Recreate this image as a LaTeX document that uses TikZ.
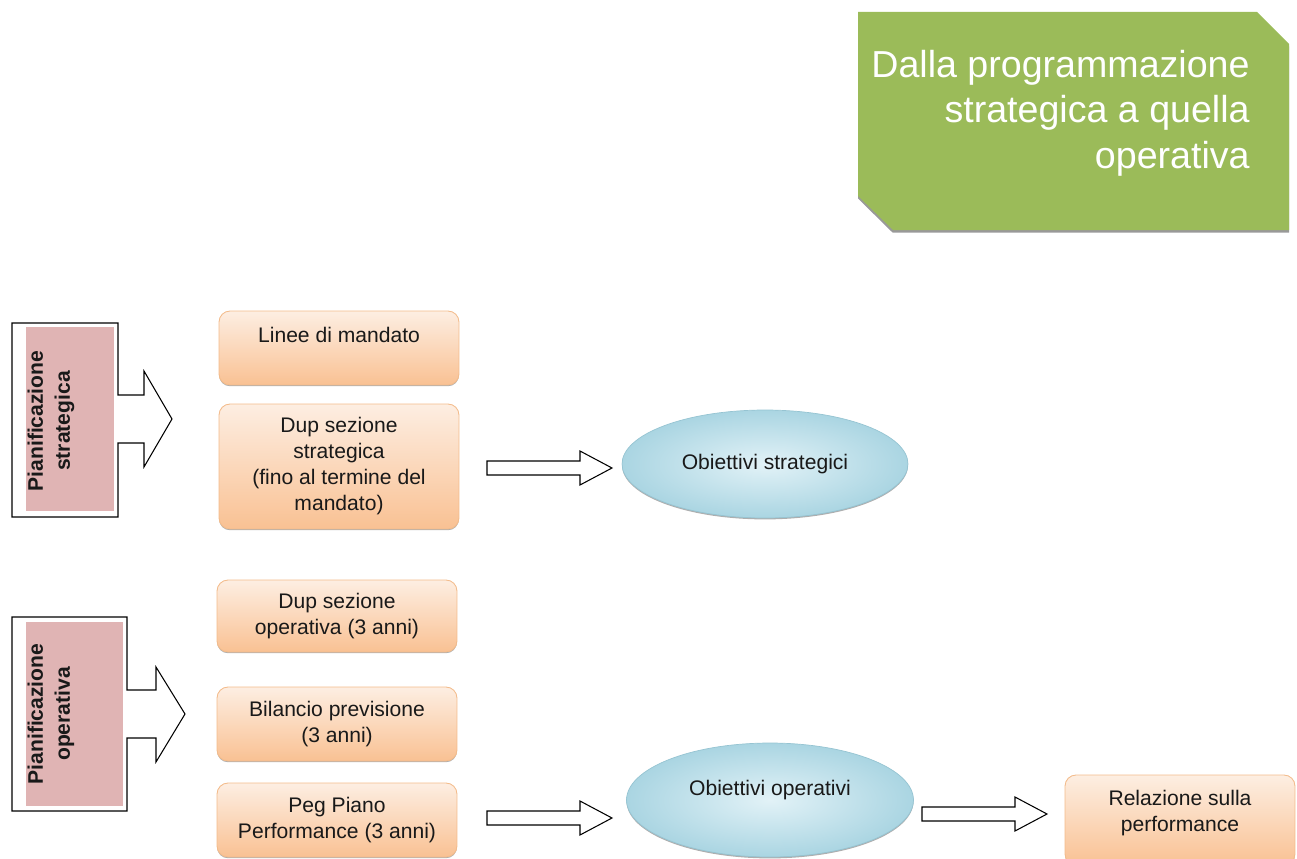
\documentclass[tikz,border=0pt]{standalone}
\usepackage{fontspec}
\setmainfont{Liberation Sans}
\usetikzlibrary{shapes.geometric,shadows,calc}

\definecolor{titlegreen}{RGB}{155,187,89}
\definecolor{planpink}{RGB}{224,180,180}
\definecolor{peachtop}{RGB}{253,238,226}
\definecolor{peachbot}{RGB}{249,193,147}
\definecolor{peachline}{RGB}{243,188,140}
\definecolor{skyin}{RGB}{226,242,247}
\definecolor{skyout}{RGB}{170,213,226}
\definecolor{skyline}{RGB}{150,196,210}
\definecolor{ink}{RGB}{25,25,25}

\tikzset{
    docbox/.style={draw=peachline, line width=0.5pt, rounded corners=0.22cm,
        top color=peachtop, bottom color=peachbot, minimum width=4.8cm,
        align=center, text=ink, font=\fontsize{12}{14.8}\selectfont,
        drop shadow={shadow xshift=0pt, shadow yshift=-0.7pt, fill=black!70, opacity=0.45}},
    goal/.style={ellipse, draw=skyline, line width=0.4pt, inner sep=0pt,
        inner color=skyin, outer color=skyout, text=ink,
        font=\fontsize{12}{14.8}\selectfont,
        drop shadow={shadow xshift=0pt, shadow yshift=-0.8pt, fill=black!70, opacity=0.45}},
    planbox/.style={fill=planpink, inner sep=0pt},
    plantext/.style={rotate=90, align=center, text=ink,
        font=\bfseries\fontsize{12}{15.4}\selectfont},
    callout/.style={draw=black, fill=white, line width=0.6pt, line join=miter},
    blockarrow/.style={draw=black, fill=white, line width=0.6pt, line join=miter}
}

% hollow block arrow, tail and tip on the same line
\newcommand{\blockarrow}[2]{%
    \draw[blockarrow] ($(#1)+(0,-7)$) -- ($(#2)+(-32,-7)$) -- ($(#2)+(-32,-17)$) --
    (#2) -- ($(#2)+(-32,17)$) -- ($(#2)+(-32,7)$) -- ($(#1)+(0,7)$) -- cycle;}

\begin{document}
\begin{tikzpicture}[x=0.02cm, y=-0.02cm]
    \useasboundingbox (0,0) rectangle (1297,858);

    % title
    \fill[black!40] (858,14.5) -- (1257,14.5) -- (1289,46.5) -- (1289,232.5) -- (892.5,232.5) -- (858,198.5) -- cycle;
    \fill[titlegreen] (858,12) -- (1257,12) -- (1289,44) -- (1289,230) -- (893,230) -- (858,196) -- cycle;
    \node[anchor=north east, align=right, inner sep=0pt, text=white,
        font=\fontsize{21.4}{25.8}\selectfont] (titolo) at (1250,50)
        {Dalla programmazione\\strategica a quella\\operativa};

    % strategic planning
    \draw[callout] (12,323) -- (118,323) -- (118,395) -- (144,395) -- (144,371) -- (172,419) --
    (144,467) -- (144,443) -- (118,443) -- (118,517) -- (12,517) -- cycle;
    \node[planbox, minimum width=1.76cm, minimum height=3.68cm] (pstr) at (70,419) {};
    \node[plantext] (pstrtext) at (51,421) {Pianificazione\\strategica};

    \node[docbox, minimum height=1.48cm, text depth=15pt] (linee) at (339,348) {Linee di mandato};
    \node[docbox, minimum height=2.5cm] (dupstr) at (339,466.5)
        {Dup sezione\\strategica\\(fino al termine del\\mandato)};
    \node[goal, minimum width=5.72cm, minimum height=2.16cm] (obstr) at (765,464) {Obiettivi strategici};

    % operational planning
    \draw[callout] (12,617) -- (127,617) -- (127,690) -- (156,690) -- (156,667) -- (185,714) --
    (156,762) -- (156,738) -- (127,738) -- (127,811) -- (12,811) -- cycle;
    \node[planbox, minimum width=1.94cm, minimum height=3.68cm] (pop) at (74.5,714) {};
    \node[plantext] (poptext) at (51,714) {Pianificazione\\operativa};

    \node[docbox, minimum height=1.44cm] (dupop) at (337,616) {Dup sezione\\operativa (3 anni)};
    \node[docbox, minimum height=1.48cm] (bilancio) at (337,724) {Bilancio previsione\\(3 anni)};
    \node[docbox, minimum height=1.48cm] (peg) at (337,820) {Peg Piano\\Performance (3 anni)};
    \node[goal, minimum width=5.74cm, minimum height=2.28cm, text depth=14pt] (obop) at (770,800)
        {Obiettivi operativi};
    \node[docbox, minimum width=4.6cm, minimum height=1.8cm, text depth=10pt] (relazione) at (1180,820)
        {Relazione sulla\\performance};

    \coordinate (s1) at (487,468);
    \coordinate (t1) at (612,468);
    \coordinate (s2) at (487,818);
    \coordinate (t2) at (612,818);
    \coordinate (s3) at (922,814);
    \coordinate (t3) at (1047,814);
    \blockarrow{s1}{t1}
    \blockarrow{s2}{t2}
    \blockarrow{s3}{t3}
\end{tikzpicture}
\end{document}
